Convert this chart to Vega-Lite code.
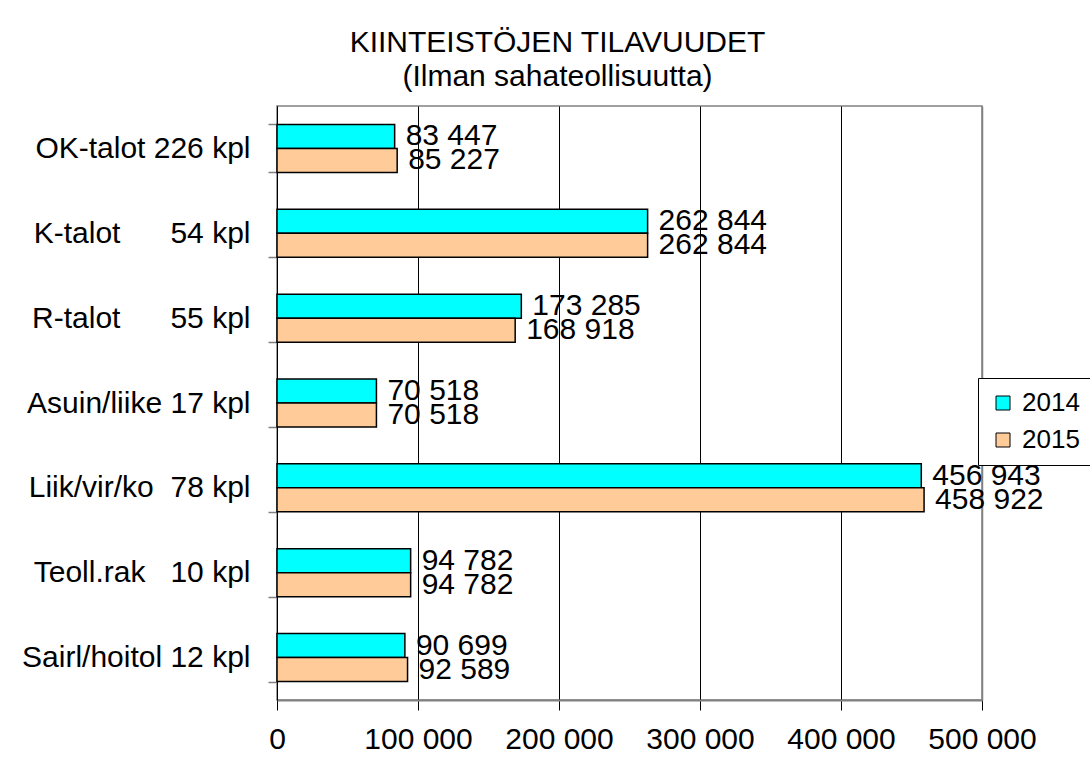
{
  "$schema": "https://vega.github.io/schema/vega-lite/v6.json",
  "width": 705,
  "height": 594,
  "autosize": {"type": "none"},
  "padding": {"left": 277, "top": 106, "right": 108, "bottom": 66},
  "background": "white",
  "title": {
    "text": ["KIINTEISTÖJEN TILAVUUDET", "(Ilman sahateollisuutta)"],
    "font": "Liberation Sans",
    "fontSize": 30,
    "fontWeight": "normal",
    "color": "black",
    "lineHeight": 34,
    "anchor": "middle",
    "frame": "group",
    "dx": -72,
    "offset": -1
  },
  "config": {
    "locale": {"number": {"decimal": ",", "thousands": " ", "grouping": [3], "currency": ["", " €"]}},
    "font": "Liberation Sans",
    "view": {"stroke": "#808080", "strokeWidth": 1.5}
  },
  "data": {
    "values": [
      {"kohde": "OK-talot 226 kpl", "vuosi": "2014", "tilavuus": 83447},
      {"kohde": "OK-talot 226 kpl", "vuosi": "2015", "tilavuus": 85227},
      {"kohde": "K-talot\u00a0\u00a0\u00a0\u00a0\u00a0\u00a054 kpl", "vuosi": "2014", "tilavuus": 262844},
      {"kohde": "K-talot\u00a0\u00a0\u00a0\u00a0\u00a0\u00a054 kpl", "vuosi": "2015", "tilavuus": 262844},
      {"kohde": "R-talot\u00a0\u00a0\u00a0\u00a0\u00a0\u00a055 kpl", "vuosi": "2014", "tilavuus": 173285},
      {"kohde": "R-talot\u00a0\u00a0\u00a0\u00a0\u00a0\u00a055 kpl", "vuosi": "2015", "tilavuus": 168918},
      {"kohde": "Asuin/liike 17 kpl", "vuosi": "2014", "tilavuus": 70518},
      {"kohde": "Asuin/liike 17 kpl", "vuosi": "2015", "tilavuus": 70518},
      {"kohde": "Liik/vir/ko\u00a0\u00a078 kpl", "vuosi": "2014", "tilavuus": 456943},
      {"kohde": "Liik/vir/ko\u00a0\u00a078 kpl", "vuosi": "2015", "tilavuus": 458922},
      {"kohde": "Teoll.rak\u00a0\u00a0\u00a010 kpl", "vuosi": "2014", "tilavuus": 94782},
      {"kohde": "Teoll.rak\u00a0\u00a0\u00a010 kpl", "vuosi": "2015", "tilavuus": 94782},
      {"kohde": "Sairl/hoitol 12 kpl", "vuosi": "2014", "tilavuus": 90699},
      {"kohde": "Sairl/hoitol 12 kpl", "vuosi": "2015", "tilavuus": 92589}
    ]
  },
  "encoding": {
    "y": {
      "field": "kohde",
      "type": "nominal",
      "sort": null,
      "scale": {"paddingInner": 0.434, "paddingOuter": 0.217},
      "axis": {
        "title": null,
        "labelFontSize": 30,
        "labelColor": "black",
        "labelPadding": 18,
        "labelLimit": 400,
        "tickBand": "extent",
        "tickSize": 9,
        "tickColor": "#808080",
        "tickWidth": 1.5,
        "domainColor": "black",
        "domainWidth": 1
      }
    },
    "yOffset": {"field": "vuosi", "type": "nominal", "scale": {"paddingInner": 0, "paddingOuter": 0}},
    "x": {
      "field": "tilavuus",
      "type": "quantitative",
      "scale": {"domain": [0, 500000], "nice": false},
      "axis": {
        "title": null,
        "values": [0, 100000, 200000, 300000, 400000, 500000],
        "format": ",d",
        "labelFontSize": 30,
        "labelColor": "black",
        "labelPadding": 14,
        "labelFlush": false,
        "labelOverlap": false,
        "tickSize": 10,
        "tickColor": "black",
        "domainColor": "#808080",
        "domainWidth": 2,
        "grid": true,
        "gridColor": {"condition": {"test": "datum.value === 500000", "value": "#808080"}, "value": "black"},
        "gridWidth": {"condition": {"test": "datum.value === 500000", "value": 1.5}, "value": 1},
        "gridOpacity": 1
      }
    }
  },
  "layer": [
    {
      "mark": {"type": "bar", "stroke": "black", "strokeWidth": 1.5},
      "encoding": {
        "fill": {
          "field": "vuosi",
          "type": "nominal",
          "scale": {"domain": ["2014", "2015"], "range": ["#00FFFF", "#FFCC99"]},
          "legend": {
            "title": null,
            "orient": "none",
            "legendX": 701,
            "legendY": 272,
            "direction": "vertical",
            "strokeColor": "black",
            "fillColor": "white",
            "padding": 12,
            "rowPadding": 11,
            "symbolType": "square",
            "symbolSize": 196,
            "symbolStrokeColor": "black",
            "symbolStrokeWidth": 1,
            "symbolOpacity": 1,
            "labelFontSize": 26,
            "labelColor": "black",
            "labelOffset": 6
          }
        }
      }
    },
    {
      "mark": {"type": "text", "align": "left", "baseline": "middle", "dx": 11, "fontSize": 30, "color": "black"},
      "encoding": {
        "text": {"field": "tilavuus", "type": "quantitative", "format": ",d"}
      }
    }
  ]
}
